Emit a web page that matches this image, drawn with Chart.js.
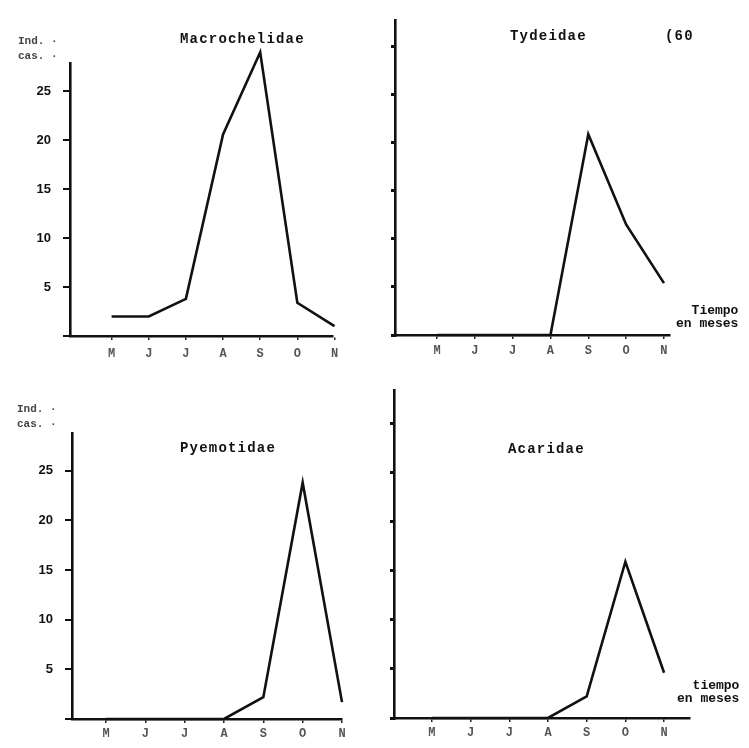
<!DOCTYPE html>
<html lang="es">
<head>
<meta charset="UTF-8">
<title>Indice de casos por familia</title>
<script src="https://cdn.jsdelivr.net/npm/chart.js@4"></script>
<style>
    body { margin: 0; background: #fff; }
    #page { position: relative; width: 749px; height: 748px; overflow: hidden; background: #fff; }
    canvas { position: absolute; }
    .txt {
        position: absolute;
        font-family: "Liberation Mono", "DejaVu Sans Mono", monospace;
        font-weight: bold;
        color: #111;
        white-space: nowrap;
        line-height: 1;
    }
    .title { font-size: 14px; letter-spacing: 1.2px; }
    .small { font-size: 11px; color: #444; line-height: 15px; }
    .note { font-size: 13px; line-height: 13px; text-align: right; }
</style>
</head>
<body>
<div id="page">
    <canvas id="c1"></canvas>
    <canvas id="c2"></canvas>
    <canvas id="c3"></canvas>
    <canvas id="c4"></canvas>

    <div class="txt small" style="left:18px; top:34px;">Ind. ·<br>cas. ·</div>
    <div class="txt title" style="left:180px; top:32px;">Macrochelidae</div>
    <div class="txt title" style="left:510px; top:29px;">Tydeidae</div>
    <div class="txt title" style="left:665px; top:29px;">(60</div>
    <div class="txt note" style="left:676px; top:304px;">Tiempo<br>en meses</div>

    <div class="txt small" style="left:17px; top:402px;">Ind. ·<br>cas. ·</div>
    <div class="txt title" style="left:180px; top:441px;">Pyemotidae</div>
    <div class="txt title" style="left:508px; top:442px;">Acaridae</div>
    <div class="txt note" style="left:677px; top:679px;">tiempo<br>en meses</div>
</div>

<script>
// meses de muestreo (mayo a noviembre)
const months = ['M', 'J', 'J', 'A', 'S', 'O', 'N'];

const macrochelidae = [2.0, 2.0, 3.8, 20.6, 29.0, 3.4, 1.0];
const tydeidae = [0, 0, 0, 0, 20.9, 11.5, 5.4];
const pyemotidae = [0, 0, 0, 0, 2.2, 23.8, 1.7];
const acaridae = [0, 0, 0, 0, 2.2, 15.9, 4.6];

// marcas del eje vertical
const yTicks = [0, 5, 10, 15, 20, 25, 30];

function makeChart(id, values, box) {
    const canvas = document.getElementById(id);
    canvas.style.left = box.left + 'px';
    canvas.style.top = box.top + 'px';
    canvas.width = box.width;
    canvas.height = box.height;

    const yWidth = box.showY ? 55 : 10;
    const xHeight = 30;

    return new Chart(canvas, {
        type: 'line',
        data: {
            datasets: [{
                data: values.map((v, i) => ({ x: i, y: v })),
                borderColor: '#111',
                borderWidth: 2.6,
                pointRadius: 0,
                tension: 0,
                clip: false
            }]
        },
        options: {
            responsive: false,
            animation: false,
            layout: {
                padding: {
                    left: box.axisX - box.left - yWidth,
                    top: box.plotTop - box.top,
                    right: box.left + box.width - box.plotRight,
                    bottom: box.top + box.height - box.axisY - xHeight
                }
            },
            plugins: {
                legend: { display: false },
                tooltip: { enabled: false }
            },
            scales: {
                x: {
                    type: 'linear',
                    min: box.xMin,
                    max: box.xMax,
                    afterBuildTicks: (s) => { s.ticks = months.map((m, i) => ({ value: i })); },
                    afterFit: (s) => { s.height = xHeight; },
                    border: { color: '#111', width: 2.6 },
                    grid: { drawOnChartArea: false, color: '#222', lineWidth: 1.5, tickLength: 4 },
                    ticks: {
                        padding: box.xPad,
                        color: '#555',
                        maxRotation: 0,
                        autoSkip: false,
                        font: { family: 'Liberation Mono', size: 12, weight: 'bold' },
                        callback: (v) => months[v] || ''
                    }
                },
                y: {
                    min: 0,
                    max: box.yMax,
                    afterBuildTicks: (s) => { s.ticks = yTicks.filter(t => t <= box.yMax).map(t => ({ value: t })); },
                    afterFit: (s) => { s.width = yWidth; },
                    border: { color: '#111', width: 2.6 },
                    grid: { drawOnChartArea: false, color: '#111', lineWidth: box.showY ? 2 : 3, tickLength: box.showY ? 7 : 4 },
                    ticks: {
                        padding: 12,
                        color: '#111',
                        font: { family: 'Liberation Sans', size: 13, weight: 'bold' },
                        callback: (v) => (box.showY && v > 0) ? String(v) : ''
                    }
                }
            }
        }
    });
}

makeChart('c1', macrochelidae, {
    left: 0, top: 0, width: 375, height: 370,
    axisX: 70, axisY: 336, plotTop: 63, plotRight: 333,
    xMin: -1.12, xMax: 5.96, yMax: 27.9, xPad: 7, showY: true
});

makeChart('c2', tydeidae, {
    left: 375, top: 0, width: 374, height: 370,
    axisX: 395, axisY: 335, plotTop: 12, plotRight: 670,
    xMin: -1.11, xMax: 6.16, yMax: 32.8, xPad: 5, showY: false
});

makeChart('c3', pyemotidae, {
    left: 0, top: 370, width: 375, height: 378,
    axisX: 72, axisY: 719, plotTop: 433, plotRight: 342,
    xMin: -0.865, xMax: 6.0, yMax: 28.8, xPad: 4, showY: true
});

makeChart('c4', acaridae, {
    left: 375, top: 370, width: 374, height: 378,
    axisX: 394, axisY: 718, plotTop: 387, plotRight: 690,
    xMin: -0.98, xMax: 6.67, yMax: 33.4, xPad: 4, showY: false
});
</script>
</body>
</html>
